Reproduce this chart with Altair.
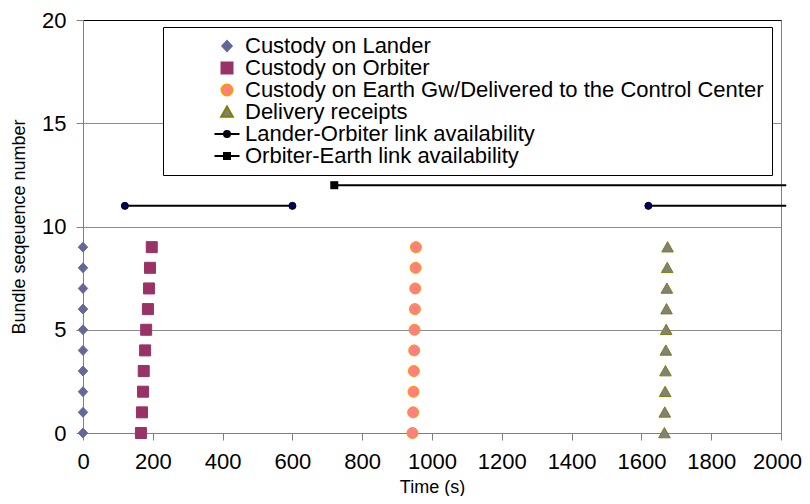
import altair as alt
import pandas as pd

FONT = "Liberation Sans"

# ---- data ----
seq = [0, 1, 2, 3, 4, 5, 6, 7, 8, 9]
lander_t = [0, 0, 0, 0, 0, 0, 0, 0, 0, 0]
orbiter_t = [166, 169, 172, 174, 178, 181, 186, 189, 192, 197]
earth_t = [944, 946, 947, 948, 949, 950, 951, 952, 953, 954]
delivery_t = [1666, 1667, 1668, 1669, 1670, 1671, 1672, 1673, 1674, 1675]

series_names = [
    "Custody on Lander",
    "Custody on Orbiter",
    "Custody on Earth Gw/Delivered to the Control Center",
    "Delivery receipts",
    "Lander-Orbiter link availability",
    "Orbiter-Earth link availability",
]

# link availability segments (start, end, level)
lo_start = [120, 1620]
lo_end = [600, 2015]
lo_level = 11
lo_marker_t = [120, 600, 1620]
oe_start = [720]
oe_end = [2015]
oe_level = 12
oe_marker_t = [720]

x_ticks = [0, 200, 400, 600, 800, 1000, 1200, 1400, 1600, 1800, 2000]
y_ticks = [0, 5, 10, 15, 20]

# ---- styles ----
fill_colors = ["#666699", "#993366", "#FF8080", "#808080", "#000066", "#000000"]
stroke_colors = ["#666699", "#993366", "#FF9900", "#808000", "#000000", "#000000"]
shapes = [
    "M0,-0.5L0.47,0L0,0.5L-0.47,0Z",
    "M-0.55,-0.55L0.55,-0.55L0.55,0.55L-0.55,0.55Z",
    "M-0.55,0A0.55,0.55 0 1,0 0.55,0A0.55,0.55 0 1,0 -0.55,0Z",
    "M0,-0.55L0.58,0.48L-0.58,0.48Z",
    "M-1.25,0L1.25,0M-0.3,0A0.3,0.3 0 1,0 0.3,0A0.3,0.3 0 1,0 -0.3,0Z",
    "M-1.25,0L1.25,0M-0.3,-0.3L0.3,-0.3L0.3,0.3L-0.3,0.3Z",
]

# ---- tables ----
rows = []
for name, ts in zip(series_names[:4], [lander_t, orbiter_t, earth_t, delivery_t]):
    for t, s in zip(ts, seq):
        rows.append({"t": t, "seq": s, "series": name})
points_df = pd.DataFrame(rows)

line_rows = []
seg = 0
for a, b in zip(lo_start, lo_end):
    line_rows += [{"t": a, "seq": lo_level, "seg": seg}, {"t": b, "seq": lo_level, "seg": seg}]
    seg += 1
for a, b in zip(oe_start, oe_end):
    line_rows += [{"t": a, "seq": oe_level, "seg": seg}, {"t": b, "seq": oe_level, "seg": seg}]
    seg += 1
lines_df = pd.DataFrame(line_rows)

lo_mk = pd.DataFrame({"t": lo_marker_t, "seq": [lo_level] * len(lo_marker_t)})
oe_mk = pd.DataFrame({"t": oe_marker_t, "seq": [oe_level] * len(oe_marker_t)})

x_scale = alt.Scale(domain=[0, 2000], nice=False, zero=True)
y_scale = alt.Scale(domain=[0, 20], nice=False)

x_axis = alt.Axis(
    values=x_ticks, title="Time (s)", grid=False, labelFlush=False, format="d",
    labelOffset=alt.condition("datum.value == 2000", alt.value(-4), alt.value(0)),
    tickSize=7, tickColor="#808080", domainColor="#808080",
    labelFontSize=22, labelPadding=11, titleFontSize=18, titlePadding=6,
)
y_axis = alt.Axis(
    values=y_ticks, title="Bundle seqeuence number", grid=True, labelFlush=False, format="d",
    gridColor=alt.condition("datum.value == 20", alt.value("#000000"), alt.value("#8c8c8c")),
    tickSize=7, tickColor="#808080", domainColor="#808080",
    labelFontSize=22, labelPadding=10, titleFontSize=18, titlePadding=13,
)

X = alt.X("t:Q", scale=x_scale, axis=x_axis)
Y = alt.Y("seq:Q", scale=y_scale, axis=y_axis)

lines = alt.Chart(lines_df).mark_line(strokeWidth=2, color="#000000").encode(
    x=X, y=Y, detail="seg:N"
)

points = alt.Chart(points_df).mark_point(filled=True, opacity=1, size=400, strokeWidth=1).encode(
    x=X, y=Y,
    fill=alt.Fill("series:N", scale=alt.Scale(domain=series_names, range=fill_colors), title=None),
    stroke=alt.Stroke("series:N", scale=alt.Scale(domain=series_names, range=stroke_colors), title=None),
    shape=alt.Shape("series:N", scale=alt.Scale(domain=series_names, range=shapes), title=None),
)

lo_markers = alt.Chart(lo_mk).mark_circle(size=50, opacity=1, color="#000066", stroke="#000000", strokeWidth=1).encode(
    x=X, y=Y
)
oe_markers = alt.Chart(oe_mk).mark_square(size=64, opacity=1, color="#000000").encode(x=X, y=Y)

chart = (
    alt.layer(lines, points, lo_markers, oe_markers)
    .properties(
        width=698, height=413,
        autosize=alt.AutoSizeParams(type="none"),
        padding={"left": 75, "top": 12, "right": 21, "bottom": 63},
    )
    .configure(font=FONT)
    .configure_view(stroke="#808080", strokeWidth=1)
    .configure_axis(labelColor="#000000", titleColor="#000000", titleFontWeight="normal", labelFont=FONT, titleFont=FONT)
    .configure_legend(
        orient="none", legendX=80, legendY=7, direction="vertical",
        fillColor="#ffffff", strokeColor="#000000", padding=8, cornerRadius=0,
        labelFontSize=22, labelFont=FONT, labelColor="#000000", labelLimit=800,
        symbolSize=400, symbolStrokeWidth=2, symbolOffset=45, labelOffset=7,
        rowPadding=0,
    )
)

chart.save("out.html", embed_options={"renderer": "svg", "actions": False})
